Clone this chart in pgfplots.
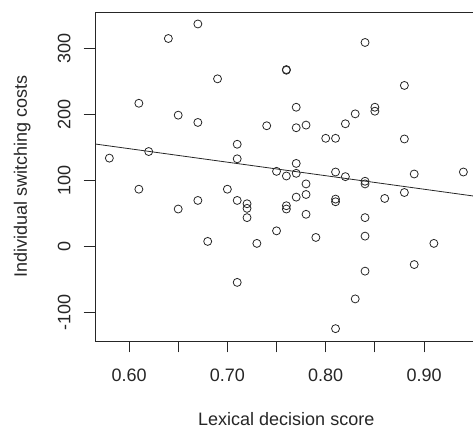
\documentclass[border=0pt]{standalone}
\usepackage{fontspec}
\setmainfont{Liberation Sans}
\usepackage{pgfplots}
\pgfplotsset{compat=1.18}
\usetikzlibrary{calc}
\begin{document}
\fontsize{13.5}{16}\selectfont
\begin{tikzpicture}
\begin{axis}[
  at={(0,0)}, anchor=south west,
  scale only axis, width=286.9pt, height=246.75pt,
  xmin=0.5654, xmax=0.9544, ymin=-142.7, ymax=355.1,
  axis line style={black!85, line width=0.6pt},
  tick style={black!85, line width=0.6pt},
  tick align=outside, major tick length=8.5pt,
  xtick pos=bottom, ytick pos=left,
  xtick={0.60,0.65,0.70,0.75,0.80,0.85,0.90,0.95},
  xticklabels={0.60,,0.70,,0.80,,0.90,},
  ytick={-100,0,100,200,300},
  yticklabels={-100,0,100,200,300},
  xticklabel style={anchor=base, font=\fontsize{13.5}{16}\selectfont, text=black!85},
  xticklabel shift=22pt,
  yticklabel style={rotate=90, anchor=base, font=\fontsize{13.5}{16}\selectfont, text=black!85},
  yticklabel shift=10pt,
  xlabel={Lexical decision score},
  ylabel={Individual switching costs},
  xlabel style={at={($(axis description cs:0.5,0)+(0pt,-63.4pt)$)}, anchor=base, font=\fontsize{13.5}{16}\selectfont, text=black!85},
  ylabel style={at={($(axis description cs:0,0.5)+(-51pt,0pt)$)}, anchor=base, font=\fontsize{13.5}{16}\selectfont, text=black!85},
  clip=true,
]
\addplot[only marks, mark=o, mark size=3pt, mark options={line width=0.6pt, draw=black!85}] coordinates {
(0.58,134) (0.61,217) (0.61,87) (0.62,144) (0.64,315)
(0.65,199) (0.65,57)
(0.67,337) (0.67,188) (0.67,70)
(0.68,8) (0.69,254) (0.70,87)
(0.71,155) (0.71,133) (0.71,70) (0.71,-54)
(0.72,65) (0.72,58) (0.72,44)
(0.73,5) (0.74,183)
(0.75,114) (0.75,24)
(0.76,268) (0.76,267) (0.76,107) (0.76,62) (0.76,57)
(0.77,211) (0.77,180) (0.77,126) (0.77,111) (0.77,75)
(0.78,184) (0.78,95) (0.78,79) (0.78,49)
(0.79,14)
(0.80,164)
(0.81,164) (0.81,113) (0.81,72) (0.81,68) (0.81,-124)
(0.82,186) (0.82,106)
(0.83,201) (0.83,-79)
(0.84,309) (0.84,99) (0.84,95) (0.84,44) (0.84,16) (0.84,-37)
(0.85,211) (0.85,205)
(0.86,73)
(0.88,244) (0.88,163) (0.88,82)
(0.89,110) (0.89,-27)
(0.91,5)
(0.94,113)
};
\addplot[black!85, line width=0.6pt] coordinates {(0.50,168.8) (1.00,66.5)};
\end{axis}
\pgfresetboundingbox
\useasboundingbox (-71.25pt,-66.75pt) rectangle (283.5pt,255.75pt);
\end{tikzpicture}
\end{document}
